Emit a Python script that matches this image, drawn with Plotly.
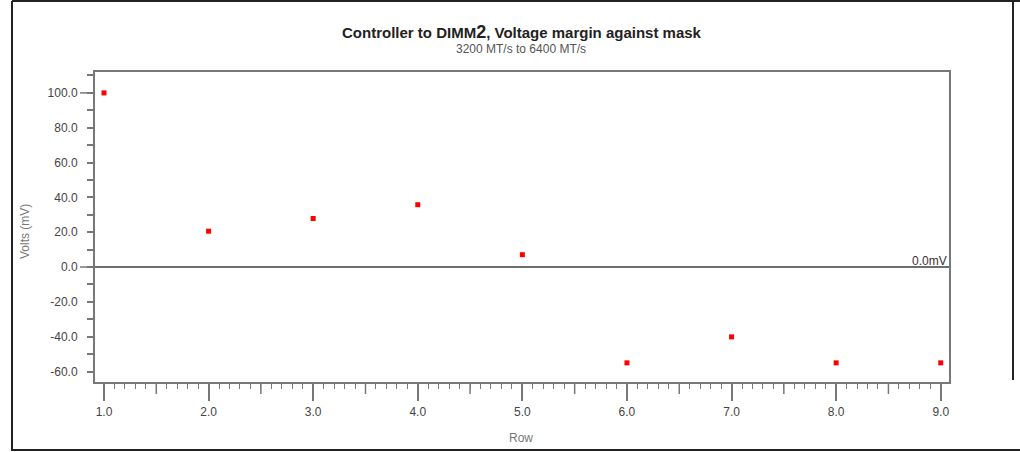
import plotly.graph_objects as go

rows = [1, 2, 3, 4, 5, 6, 7, 8, 9]
margin_mv = [100.0, 20.6, 27.9, 35.8, 7.1, -55.0, -40.1, -55.0, -55.0]

y_tick_vals = [-60, -40, -20, 0, 20, 40, 60, 80, 100]
y_tick_text = [f"{v:.1f}" for v in y_tick_vals]
x_tick_vals = [1, 2, 3, 4, 5, 6, 7, 8, 9]
x_tick_text = [f"{v:.1f}" for v in x_tick_vals]
x_half_ticks = [1.5, 2.5, 3.5, 4.5, 5.5, 6.5, 7.5, 8.5]
y_long_ticks = [0, 100]

title_main = "Controller to DIMM<span style='font-size:18px'>2</span>, Voltage margin against mask"
title_sub = "3200 MT/s to 6400 MT/s"

W, H = 1020, 452
L, R, T, B = 95, 71, 72, 70
PW, PH = W - L - R, H - T - B

def px(x):
    return (x - L) / PW

def py(y):
    return (H - B - y) / PH

FONT = "Liberation Sans, Arial, sans-serif"
AX = "#777777"

fig = go.Figure()
fig.add_trace(go.Scatter(
    x=rows, y=margin_mv, mode="markers",
    marker=dict(symbol="square", size=5, color="#ff0000", line=dict(width=0)),
    showlegend=False, hoverinfo="x+y",
))

shapes = []
for v in x_half_ticks:
    shapes.append(dict(type="line", xref="x", yref="paper", x0=v, x1=v, y0=0, y1=-12 / PH,
                       line=dict(color=AX, width=1.5)))
for v in y_long_ticks:
    shapes.append(dict(type="line", xref="paper", yref="y", x0=-15 / PW, x1=0, y0=v, y1=v,
                       line=dict(color=AX, width=1.5)))
# outer frame
fr = dict(color="#222222", width=2)
shapes += [
    dict(type="line", xref="paper", yref="paper", x0=px(12), x1=px(12), y0=py(1), y1=py(451), line=fr),
    dict(type="line", xref="paper", yref="paper", x0=px(12), x1=px(1020), y0=py(1), y1=py(1), line=fr),
    dict(type="line", xref="paper", yref="paper", x0=px(12), x1=px(1020), y0=py(450), y1=py(450), line=fr),
    dict(type="line", xref="paper", yref="paper", x0=px(1013), x1=px(1013), y0=py(1), y1=py(380), line=fr),
]

annotations = [
    dict(text=f"<b>{title_main}</b>", xref="paper", yref="paper", x=px(522), y=py(32),
         xanchor="center", yanchor="middle", showarrow=False,
         font=dict(family=FONT, size=15, color="#222222")),
    dict(text=title_sub, xref="paper", yref="paper", x=px(521), y=py(49),
         xanchor="center", yanchor="middle", showarrow=False,
         font=dict(family=FONT, size=12, color="#555555")),
    dict(text="Volts (mV)", xref="paper", yref="paper", x=px(25), y=py(232),
         xanchor="center", yanchor="middle", showarrow=False, textangle=-90,
         font=dict(family=FONT, size=12, color="#777777")),
    dict(text="Row", xref="paper", yref="paper", x=px(521), y=py(438),
         xanchor="center", yanchor="middle", showarrow=False,
         font=dict(family=FONT, size=12, color="#777777")),
    dict(text="0.0mV", xref="paper", yref="y", x=1, y=0,
         xanchor="right", yanchor="bottom", showarrow=False, yshift=-3,
         font=dict(family=FONT, size=12, color="#333333")),
]

fig.update_layout(
    width=W, height=H,
    margin=dict(l=L, r=R, t=T, b=B, pad=0),
    paper_bgcolor="white", plot_bgcolor="white",
    shapes=shapes, annotations=annotations,
    font=dict(family=FONT, size=12, color="#444444"),
    xaxis=dict(
        range=[0.914, 9.079], tickmode="array", tickvals=x_tick_vals, ticktext=x_tick_text,
        ticks="outside", ticklen=17, tickwidth=1.5, tickcolor=AX,
        minor=dict(dtick=0.1, tick0=1, ticks="outside", ticklen=5, tickwidth=1, tickcolor=AX, showgrid=False),
        showgrid=False, zeroline=False, showline=True, linecolor=AX, linewidth=2, mirror=True,
        tickfont=dict(family=FONT, size=12, color="#444444"), ticklabelstandoff=1,
    ),
    yaxis=dict(
        range=[-66, 112], tickmode="array", tickvals=y_tick_vals, ticktext=y_tick_text,
        ticks="outside", ticklen=6, tickwidth=1.5, tickcolor=AX,
        minor=dict(dtick=10, tick0=0, ticks="outside", ticklen=6, tickwidth=1.5, tickcolor=AX, showgrid=False),
        showgrid=False, zeroline=True, zerolinecolor="#6e6e6e", zerolinewidth=2,
        showline=True, linecolor=AX, linewidth=2, mirror=True,
        tickfont=dict(family=FONT, size=12, color="#444444"), ticklabelstandoff=7,
    ),
)

fig.write_html("out.html")
